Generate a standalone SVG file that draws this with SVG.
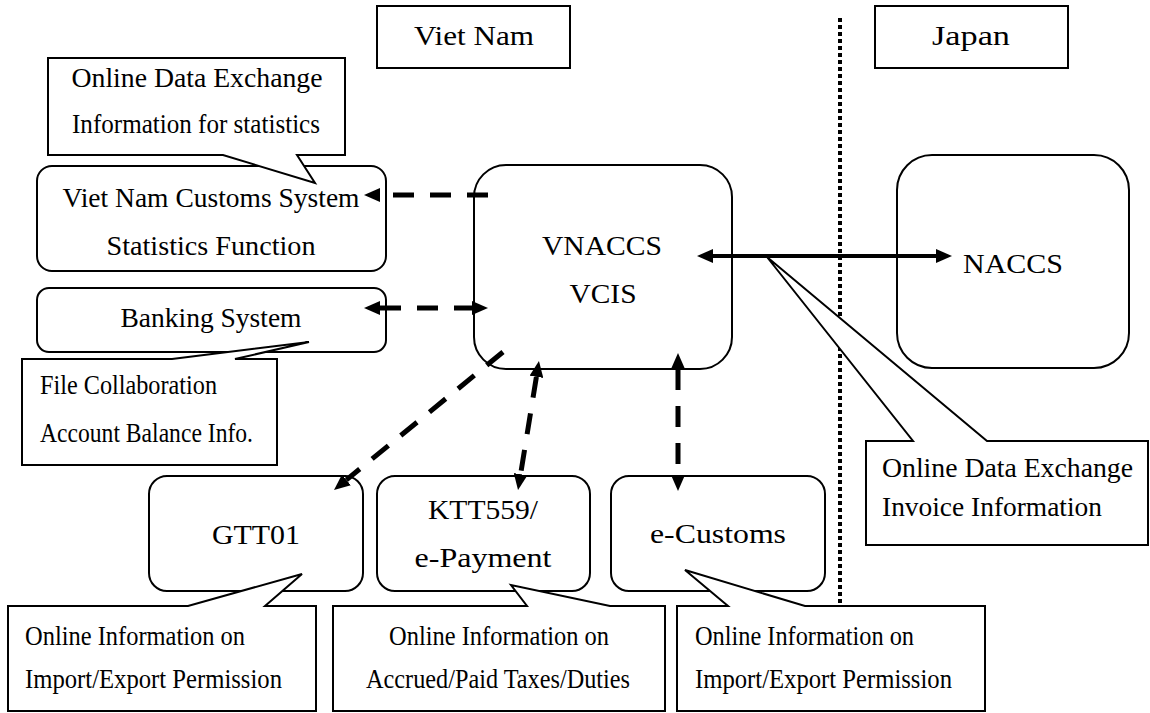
<svg xmlns="http://www.w3.org/2000/svg" width="1150" height="713" viewBox="0 0 1150 713">
<style>
text{font-family:"Liberation Serif","Times New Roman",serif;font-size:27px;fill:#000}
.m{text-anchor:middle}
.box{fill:#fff;stroke:#000;stroke-width:2}
.co{fill:#fff;stroke:#000;stroke-width:2;stroke-linejoin:miter}
.dash{fill:none;stroke:#000;stroke-width:5;stroke-dasharray:21 16}
.solid{fill:none;stroke:#000;stroke-width:4}
.dot{fill:none;stroke:#000;stroke-width:4;stroke-dasharray:4 3}
</style>
<defs>
<marker id="ah" markerUnits="userSpaceOnUse" markerWidth="16" markerHeight="14" viewBox="0 0 16 14" refX="0" refY="7" orient="auto-start-reverse"><path d="M0,0 L16,7 L0,14 z" fill="#000"/></marker>
</defs>
<rect width="1150" height="713" fill="#fff"/>
<g id="border"><line class="dot" x1="840" y1="18" x2="840" y2="663"/></g>
<g id="label-vietnam"><rect class="box" x="377" y="6" width="193" height="62"/><text class="m" x="474" y="45" textLength="120" lengthAdjust="spacingAndGlyphs">Viet Nam</text></g>
<g id="label-japan"><rect class="box" x="875" y="6" width="193" height="62"/><text class="m" x="971" y="45" textLength="78" lengthAdjust="spacingAndGlyphs">Japan</text></g>
<g id="stats"><rect class="box" x="37" y="166" width="349" height="105" rx="15"/><text class="m" x="211" y="207" textLength="297" lengthAdjust="spacingAndGlyphs">Viet Nam Customs System</text><text class="m" x="211" y="255" textLength="209" lengthAdjust="spacingAndGlyphs">Statistics Function</text></g>
<g id="banking"><rect class="box" x="37" y="288" width="349" height="64" rx="12"/><text class="m" x="211" y="327" textLength="181" lengthAdjust="spacingAndGlyphs">Banking System</text></g>
<g id="vnaccs"><rect class="box" x="474" y="165" width="258" height="204" rx="32"/><text class="m" x="602" y="255" textLength="120" lengthAdjust="spacingAndGlyphs">VNACCS</text><text class="m" x="603" y="303" textLength="67" lengthAdjust="spacingAndGlyphs">VCIS</text></g>
<g id="naccs"><rect class="box" x="897" y="155" width="232" height="213" rx="35"/><text class="m" x="1013" y="273" textLength="100" lengthAdjust="spacingAndGlyphs">NACCS</text></g>
<g id="gtt01"><rect class="box" x="149" y="476" width="214" height="115" rx="18"/><text class="m" x="256" y="544" textLength="88" lengthAdjust="spacingAndGlyphs">GTT01</text></g>
<g id="ktt559"><rect class="box" x="377" y="476" width="213" height="115" rx="18"/><text class="m" x="483" y="519" textLength="110" lengthAdjust="spacingAndGlyphs">KTT559/</text><text class="m" x="483" y="567" textLength="137" lengthAdjust="spacingAndGlyphs">e-Payment</text></g>
<g id="ecustoms"><rect class="box" x="611" y="476" width="214" height="115" rx="18"/><text class="m" x="718" y="543" textLength="136" lengthAdjust="spacingAndGlyphs">e-Customs</text></g>
<g id="connectors">
<line class="dash" x1="488" y1="195" x2="380" y2="195" marker-end="url(#ah)"/>
<line class="dash" x1="380" y1="308" x2="472" y2="308" marker-start="url(#ah)" marker-end="url(#ah)"/>
<line class="solid" x1="713" y1="256" x2="936" y2="256" marker-start="url(#ah)" marker-end="url(#ah)"/>
<line class="dash" x1="503" y1="352" x2="346.4" y2="479.9" marker-end="url(#ah)"/>
<line class="dash" x1="536.4" y1="376.8" x2="520.6" y2="474.2" marker-start="url(#ah)" marker-end="url(#ah)"/>
<line class="dash" x1="678" y1="369" x2="678" y2="475" marker-start="url(#ah)" marker-end="url(#ah)"/>
</g>
<g id="callout-stats"><path class="co" d="M48,58 H345 V155 H297 L315,183 L223,155 H48 Z"/><text class="m" x="197" y="87" textLength="251" lengthAdjust="spacingAndGlyphs">Online Data Exchange</text><text class="m" x="196" y="133" textLength="248" lengthAdjust="spacingAndGlyphs">Information for statistics</text></g>
<g id="callout-banking"><path class="co" d="M22,359 H172 L309,342 L235,359 H277 V465 H22 Z"/><text x="40" y="394" textLength="177" lengthAdjust="spacingAndGlyphs">File Collaboration</text><text x="40" y="442" textLength="213" lengthAdjust="spacingAndGlyphs">Account Balance Info.</text></g>
<g id="callout-naccs"><path class="co" d="M866,441 H913 L767,257 L987,441 H1148 V545 H866 Z"/><text x="882" y="477" textLength="251" lengthAdjust="spacingAndGlyphs">Online Data Exchange</text><text x="882" y="516" textLength="220" lengthAdjust="spacingAndGlyphs">Invoice Information</text></g>
<g id="callout-gtt01"><path class="co" d="M8,606 H188 L302,574 L265,606 H316 V711 H8 Z"/><text x="25" y="645" textLength="220" lengthAdjust="spacingAndGlyphs">Online Information on</text><text x="25" y="688" textLength="257" lengthAdjust="spacingAndGlyphs">Import/Export Permission</text></g>
<g id="callout-ktt559"><path class="co" d="M333,606 H527 L511,585 L610,606 H665 V711 H333 Z"/><text class="m" x="499" y="645" textLength="220" lengthAdjust="spacingAndGlyphs">Online Information on</text><text class="m" x="498" y="688" textLength="264" lengthAdjust="spacingAndGlyphs">Accrued/Paid Taxes/Duties</text></g>
<g id="callout-ecustoms"><path class="co" d="M677,606 H728 L685,570 L805,606 H985 V711 H677 Z"/><text x="695" y="645" textLength="219" lengthAdjust="spacingAndGlyphs">Online Information on</text><text x="695" y="688" textLength="257" lengthAdjust="spacingAndGlyphs">Import/Export Permission</text></g>
</svg>
